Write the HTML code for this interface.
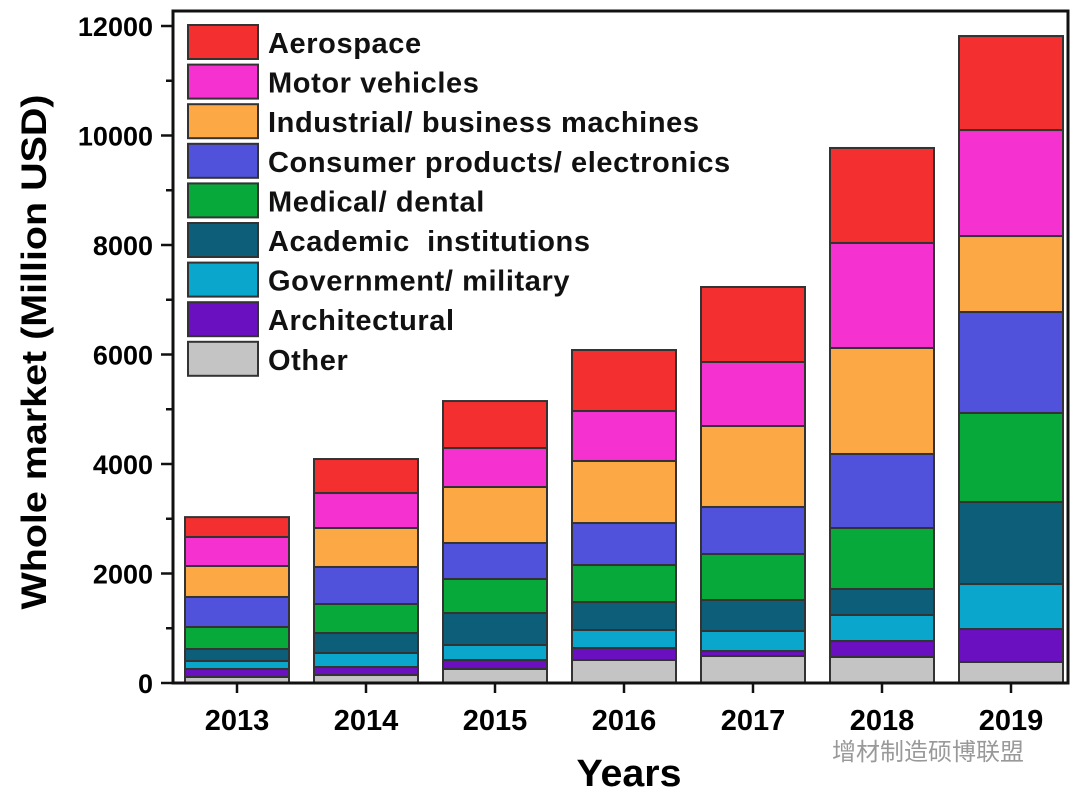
<!DOCTYPE html>
<html><head><meta charset="utf-8"><style>
body{margin:0;background:#fff;}
svg text{font-family:"Liberation Sans","Noto Sans CJK SC",sans-serif;font-weight:bold;}
</style></head><body>
<svg id="chart" width="1080" height="800" xmlns="http://www.w3.org/2000/svg">
<g id="bars"></g>
<g id="axes"></g>
<g id="legend"></g>
<text x="629" y="786" font-size="38" text-anchor="middle" textLength="105" lengthAdjust="spacingAndGlyphs">Years</text>
<text transform="translate(46,352) rotate(-90)" font-size="35" text-anchor="middle" textLength="515" lengthAdjust="spacingAndGlyphs">Whole market (Million USD)</text>
<text x="832" y="760" font-size="24" fill="#999" style="font-weight:normal">增材制造硕博联盟</text>
</svg>
<script>
const years=["2013","2014","2015","2016","2017","2018","2019"];
const series=["Aerospace","Motor vehicles","Industrial/ business machines","Consumer products/ electronics","Medical/ dental","Academic\u00a0\u00a0institutions","Government/ military","Architectural","Other"];
const colors=["#f42f2f","#f531cf","#fba845","#5052dc","#07a93a","#0d5e78","#0aa6cc","#6a10c0","#c4c4c4"];
// bottom-up order values
const other=[110,146,256,420,493,475,384];
const architectural=[146,146,164,219,91,292,602];
const government=[146,256,274,329,366,475,822];
const academic=[219,365,584,511,566,475,1498];
const medical=[402,530,622,676,840,1114,1626];
const consumer=[548,676,657,767,859,1352,1844];
const industrial=[566,712,1023,1133,1479,1936,1388];
const motor=[530,639,712,913,1169,1918,1936];
const aerospace=[363,621,858,1114,1370,1735,1717];
const yTicks=[0,2000,4000,6000,8000,10000,12000];

const stack=[other,architectural,government,academic,medical,consumer,industrial,motor,aerospace];
const stackColors=["#c4c4c4","#6a10c0","#0aa6cc","#0d5e78","#07a93a","#5052dc","#fba845","#f531cf","#f42f2f"];
const stackNames=["other","architectural","government","academic","medical","consumer","industrial","motor","aerospace"];
const NS="http://www.w3.org/2000/svg";
const L=173,R=1068,T=11,B=683;
const y=v=>B-v*(B-26)/12000;
const x=i=>237+i*129;
const bw=104;
const bars=document.getElementById('bars');
years.forEach((yr,i)=>{
  let acc=0;
  stack.forEach((s,k)=>{
    const r=document.createElementNS(NS,'rect');
    r.setAttribute('x',x(i)-bw/2);r.setAttribute('y',y(acc+s[i]));
    r.setAttribute('width',bw);r.setAttribute('height',y(acc)-y(acc+s[i]));
    r.setAttribute('fill',stackColors[k]);r.setAttribute('stroke','#333');r.setAttribute('stroke-width','2');
    
    
    bars.appendChild(r);
    acc+=s[i];
  });
});
const ax=document.getElementById('axes');
function line(x1,y1,x2,y2,w){const l=document.createElementNS(NS,'line');l.setAttribute('x1',x1);l.setAttribute('y1',y1);l.setAttribute('x2',x2);l.setAttribute('y2',y2);l.setAttribute('stroke','#111');l.setAttribute('stroke-width',w||3);ax.appendChild(l);return l;}
const fr=document.createElementNS(NS,'rect');
fr.setAttribute('x',L);fr.setAttribute('y',T);fr.setAttribute('width',R-L);fr.setAttribute('height',B-T);
fr.setAttribute('fill','none');fr.setAttribute('stroke','#111');fr.setAttribute('stroke-width','3');


ax.appendChild(fr);
for(let v=0;v<=12000;v+=1000){line(v%2000===0?L-12:L-7,y(v),L,y(v),2.5);}
yTicks.forEach(v=>{
  const t=document.createElementNS(NS,'text');
  t.setAttribute('x',L-20);t.setAttribute('y',y(v)+10);t.setAttribute('font-size','27');t.setAttribute('text-anchor','end');
  t.textContent=v;
  
  
  ax.appendChild(t);
});
years.forEach((yr,i)=>{
  line(x(i),B,x(i),B+10,2.5);
  const t=document.createElementNS(NS,'text');
  t.setAttribute('x',x(i));t.setAttribute('y',730);t.setAttribute('font-size','29');t.setAttribute('text-anchor','middle');
  t.textContent=yr;
  
  
  ax.appendChild(t);
});
const lg=document.getElementById('legend');
series.forEach((n,k)=>{
  const g=document.createElementNS(NS,'g');
  
  
  const r=document.createElementNS(NS,'rect');
  r.setAttribute('x',188);r.setAttribute('y',25+k*39.6);r.setAttribute('width',70);r.setAttribute('height',34);
  r.setAttribute('fill',colors[k]);r.setAttribute('stroke','#333');r.setAttribute('stroke-width','2');
  g.appendChild(r);
  const t=document.createElementNS(NS,'text');
  t.setAttribute('x',268);t.setAttribute('y',53+k*39.6);t.setAttribute('font-size','29');
  t.setAttribute('letter-spacing','0.6');
  t.setAttribute('fill','#111');
  t.textContent=n;
  g.appendChild(t);
  lg.appendChild(g);
});
</script>
</body></html>
